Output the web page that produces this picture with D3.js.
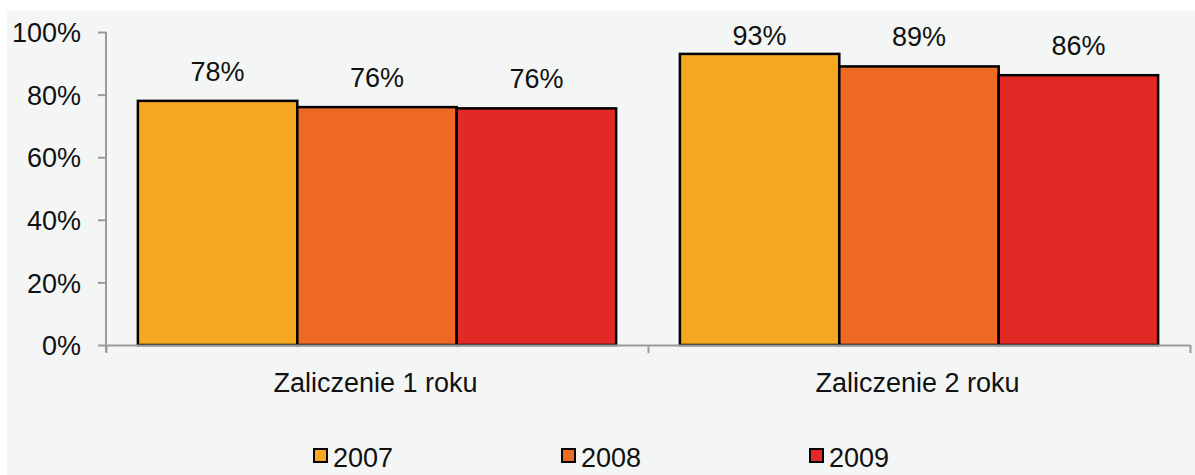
<!DOCTYPE html>
<html>
<head>
<meta charset="utf-8">
<script src="https://cdn.jsdelivr.net/npm/d3@7"></script>
<style>
  html, body { margin: 0; padding: 0; background: #ffffff; }
  svg { display: block; }
  text { font-family: "Liberation Sans", Arial, sans-serif; fill: #111; }
</style>
</head>
<body>
<svg id="chart" width="1195" height="475"></svg>
<script>
// ---- data ----
const categories = ["Zaliczenie 1 roku", "Zaliczenie 2 roku"];
const years = ["2007", "2008", "2009"];
const values2007 = [0.780, 0.930];
const values2008 = [0.760, 0.890];
const values2009 = [0.756, 0.862];
const yTicks = [0, 0.2, 0.4, 0.6, 0.8, 1.0];
const seriesColors = ["#f5a71f", "#ee6a24", "#e32926"];

const series = [values2007, values2008, values2009];

const W = 1195, H = 475;
const FS = 27;
const svg = d3.select("#chart");

// background panel
svg.append("rect").attr("x", 0).attr("y", 0).attr("width", W).attr("height", H).attr("fill", "#ffffff");
svg.append("rect").attr("x", 7).attr("y", 11).attr("width", W - 7).attr("height", H - 11).attr("fill", "#f4f6f5");

const plot = { left: 106, right: 1190, top: 32, bottom: 345 };

const y = d3.scaleLinear().domain([0, 1]).range([plot.bottom, plot.top]);
const x0 = d3.scaleBand().domain(categories).range([plot.left, plot.right]).padding(0);
const x1 = d3.scaleBand().domain(years).range([0, x0.bandwidth()]).paddingInner(0).paddingOuter(0.2);

const fmt = d3.format(".0%");

// bars
const groups = svg.append("g").selectAll("g")
  .data(categories)
  .join("g")
  .attr("transform", c => `translate(${x0(c)},0)`);

groups.selectAll("rect")
  .data((c, ci) => years.map((yr, si) => ({ yr, si, v: series[si][ci] })))
  .join("rect")
  .attr("x", d => x1(d.yr))
  .attr("y", d => y(d.v))
  .attr("width", x1.bandwidth())
  .attr("height", d => y(0) - y(d.v))
  .attr("fill", d => seriesColors[d.si])
  .attr("stroke", "#000")
  .attr("stroke-width", 2.5);

// value labels
groups.selectAll("text.val")
  .data((c, ci) => years.map((yr, si) => ({ yr, si, v: series[si][ci] })))
  .join("text")
  .attr("class", "val")
  .attr("x", d => x1(d.yr) + x1.bandwidth() / 2)
  .attr("y", d => Math.max(y(d.v) - 20, 45))
  .attr("text-anchor", "middle")
  .attr("font-size", FS)
  .text(d => fmt(d.v));

// y axis
const axisColor = "#9a9a9a";
const yAxis = svg.append("g")
  .attr("transform", `translate(${plot.left},0)`)
  .call(d3.axisLeft(y).tickValues(yTicks).tickFormat(fmt).tickSize(8).tickPadding(17));
yAxis.select(".domain").attr("stroke", axisColor).attr("stroke-width", 2)
  .attr("d", `M0,${plot.top}V${plot.bottom + 7}`);
yAxis.selectAll(".tick line").attr("stroke", axisColor).attr("stroke-width", 2);
yAxis.selectAll(".tick text")
  .attr("font-size", FS)
  .attr("font-family", "'Liberation Sans', Arial, sans-serif")
  .attr("fill", "#111")
  .attr("dy", "0.36em");

// x axis
const xBoundaries = [plot.left, x0(categories[1]), plot.right];
const xAxisScale = d3.scaleLinear().domain([plot.left, plot.right]).range([plot.left, plot.right]);
const xAxis = svg.append("g")
  .attr("transform", `translate(0,${plot.bottom})`)
  .call(d3.axisBottom(xAxisScale).tickValues(xBoundaries).tickFormat("").tickSize(8).tickSizeOuter(0));
xAxis.select(".domain").attr("stroke", axisColor).attr("stroke-width", 2);
xAxis.selectAll(".tick line").attr("stroke", axisColor).attr("stroke-width", 2);

// category labels
svg.append("g").selectAll("text")
  .data(categories)
  .join("text")
  .attr("x", c => x0(c) + x0.bandwidth() / 2 - 1.5)
  .attr("y", 392)
  .attr("text-anchor", "middle")
  .attr("font-size", FS)
  .text(c => c);

// legend
const legendX = d3.scalePoint().domain(years).range([313, 809]);
const leg = svg.append("g").selectAll("g")
  .data(years)
  .join("g")
  .attr("transform", yr => `translate(${legendX(yr)},0)`);
leg.append("rect")
  .attr("x", 1).attr("y", 449)
  .attr("width", 13).attr("height", 13)
  .attr("fill", (yr, i) => seriesColors[i])
  .attr("stroke", "#000").attr("stroke-width", 2);
leg.append("text")
  .attr("x", 20).attr("y", 467)
  .attr("font-size", FS)
  .text(yr => yr);
</script>
</body>
</html>
